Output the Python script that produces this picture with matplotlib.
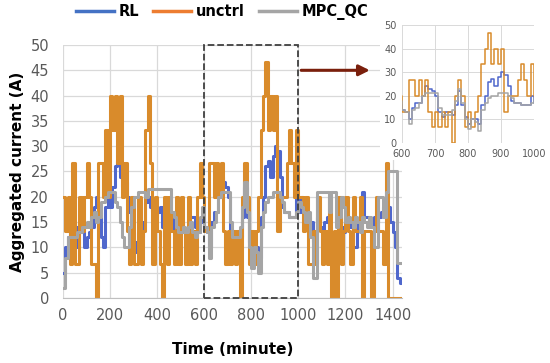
import matplotlib
matplotlib.use("Agg")
import matplotlib.pyplot as plt
from matplotlib.lines import Line2D
from matplotlib.patches import Rectangle

# time of each sample (minute), 10 minute steps over one day
minutes = list(range(0, 1440, 10))

rl = [5, 10, 12, 13, 12, 14, 10, 15, 13, 10,
      12, 13, 14, 18, 20, 17, 12, 10, 18, 20,
      18, 22, 26, 27, 24, 22, 23, 20, 17, 13,
      11, 9, 9, 12, 15, 19, 20, 18, 17, 16,
      17, 18, 14, 12, 10, 17, 16, 13, 12, 14,
      15, 13, 12, 14, 16, 16, 14, 13, 15, 16,
      14, 13, 10, 15, 17, 17, 20, 24, 23, 22,
      20, 13, 11, 13, 13, 12, 16, 22, 16, 11,
      8, 10, 10, 8, 16, 20, 26, 27, 24, 28,
      30, 29, 24, 18, 17, 17, 16, 16, 16, 20,
      17, 20, 17, 16, 16, 15, 11, 13, 16, 14,
      10, 15, 16, 14, 12, 12, 13, 15, 14, 13,
      16, 15, 14, 10, 10, 15, 16, 21, 16, 16,
      15, 14, 16, 15, 16, 17, 18, 17, 18, 15,
      13, 10, 4, 3]

unctrl = [20, 13.3, 20, 6.7, 26.7, 6.7, 6.7, 20, 13.3, 20,
          26.7, 20, 6.7, 6.7, 0, 26.7, 26.7, 20, 33.3, 20,
          40, 33.3, 40, 26.7, 40, 20, 26.7, 13.3, 6.7, 20,
          6.7, 6.7, 20, 6.7, 13.3, 33.3, 40, 26.7, 6.7, 20,
          13.3, 6.7, 0, 20, 6.7, 20, 13.3, 6.7, 20, 6.7,
          20, 13.3, 6.7, 20, 6.7, 13.3, 6.7, 20, 26.7, 20,
          13.3, 13.3, 26.7, 26.7, 20, 26.7, 20, 26.7, 13.3, 6.7,
          13.3, 6.7, 13.3, 6.7, 13.3, 0, 20, 26.7, 20, 6.7,
          13.3, 6.7, 13.3, 20, 33.3, 40, 46.7, 33.3, 40, 33.3,
          40, 13.3, 20, 20, 20, 26.7, 33.3, 26.7, 20, 33.3,
          20, 20, 13.3, 20, 6.7, 6.7, 13.3, 6.7, 20, 13.3,
          6.7, 13.3, 6.7, 20, 0, 13.3, 0, 20, 6.7, 13.3,
          20, 13.3, 6.7, 20, 13.3, 13.3, 20, 0, 13.3, 13.3,
          13.3, 0, 13.3, 20, 13.3, 13.3, 6.7, 26.7, 0, 0,
          0, 0, 0, 0]

mpc_qc = [2, 8, 12, 12, 12, 12, 13, 13, 14, 14,
          15, 14, 16, 17, 15, 16, 19, 19, 20, 21,
          21, 21, 19, 18, 15, 12, 10, 10, 14, 18,
          20, 20, 21, 21, 21, 20, 21.5, 21.5, 21.5, 21.5,
          21.5, 21.5, 21.5, 21.5, 21.5, 21.5, 17, 16, 14, 13,
          13, 14, 13, 14, 15, 13, 12, 13, 16, 18,
          14, 13, 8, 14, 15, 17, 20, 21, 21, 21,
          21, 15, 12, 12, 12, 14, 18, 23, 17, 10,
          6, 10, 9, 5, 14, 17, 19, 20, 20, 21,
          21, 21, 20, 19, 17, 17, 16, 16, 16, 17,
          19, 18, 17, 15, 17, 12, 4, 4, 21, 21,
          21, 21, 21, 17, 21, 21, 14, 16, 20, 18,
          15, 16, 15, 14, 16, 15, 13, 16, 15, 14,
          16, 14, 10, 10, 20, 20, 16, 21, 25, 25,
          25, 25, 7, 7]

xticks_main = [0, 200, 400, 600, 800, 1000, 1200, 1400]
yticks_main = [0, 5, 10, 15, 20, 25, 30, 35, 40, 45, 50]
xticks_zoom = [600, 700, 800, 900, 1000]
yticks_zoom = [0, 10, 20, 30, 40, 50]

c_rl = '#4F67CC'
c_un = '#D98B2B'
c_mpc = '#A5A5A5'
grid_c = '#D9D9D9'
tick_c = '#595959'

# close the last step at the end of the day
t = minutes + [1440]
rl_s = rl + [rl[-1]]
un_s = unctrl + [unctrl[-1]]
mpc_s = mpc_qc + [mpc_qc[-1]]

fig = plt.figure(figsize=(5.5, 3.63), dpi=100)
ax = fig.add_axes([63/550, 65/363, 339/550, 253/363])

ax.plot(t, rl_s, drawstyle='steps-post', color=c_rl, lw=2.2)
ax.plot(t, un_s, drawstyle='steps-post', color=c_un, lw=2.2)
ax.plot(t, mpc_s, drawstyle='steps-post', color=c_mpc, lw=2.2)

ax.set_xlim(0, 1440)
ax.set_ylim(0, 50)
ax.set_xticks(xticks_main)
ax.set_yticks(yticks_main)
ax.grid(True, color=grid_c, lw=0.9)
ax.set_axisbelow(True)
for s in ['top', 'right', 'left']:
    ax.spines[s].set_visible(False)
ax.spines['bottom'].set_color('#BFBFBF')
ax.tick_params(length=0, labelsize=10.5, colors=tick_c)
ax.tick_params(axis='y', pad=10)
ax.tick_params(axis='x', pad=7)
ax.set_xlabel('Time (minute)', fontsize=11, fontweight='bold', labelpad=14)
ax.set_ylabel('Aggregated current (A)', fontsize=11, fontweight='bold', labelpad=4)

ax.add_patch(Rectangle((600, 0), 400, 50, fill=False, ls='--', lw=1.3,
                       edgecolor='#404040', zorder=5, clip_on=False))
ax.annotate('', xy=(1315, 45), xytext=(1000, 45),
            arrowprops=dict(arrowstyle='-|>', color='#7A1F0C', lw=2.2,
                            mutation_scale=16), zorder=6)

# white box behind the zoom panel
fig.patches.append(Rectangle((380/550, 1 - 160/363), 170/550, 145/363,
                             transform=fig.transFigure, facecolor='white',
                             edgecolor='none', zorder=2))

axi = fig.add_axes([402/550, 1 - 143/363, 132/550, 118/363], zorder=3)
axi.plot(t, rl_s, drawstyle='steps-post', color=c_rl, lw=1.1)
axi.plot(t, un_s, drawstyle='steps-post', color=c_un, lw=1.1)
axi.plot(t, mpc_s, drawstyle='steps-post', color=c_mpc, lw=1.1)
axi.set_xlim(600, 1000)
axi.set_ylim(0, 50)
axi.set_xticks(xticks_zoom)
axi.set_yticks(yticks_zoom)
axi.grid(True, color=grid_c, lw=0.7)
axi.set_axisbelow(True)
for s in axi.spines.values():
    s.set_visible(False)
axi.tick_params(length=0, labelsize=7, colors=tick_c, pad=4)

handles = [Line2D([], [], color='#4472C4', lw=2.5),
           Line2D([], [], color='#ED7D31', lw=2.5),
           Line2D([], [], color='#A5A5A5', lw=2.5)]
fig.legend(handles, ['RL', 'unctrl', 'MPC_QC'], loc='center', ncol=3,
           bbox_to_anchor=(222/550, 1 - 12/363), frameon=False,
           prop={'weight': 'bold', 'size': 10.5}, handlelength=2.6,
           columnspacing=1.0, handletextpad=0.3)

fig.savefig('out.png', dpi=100)
